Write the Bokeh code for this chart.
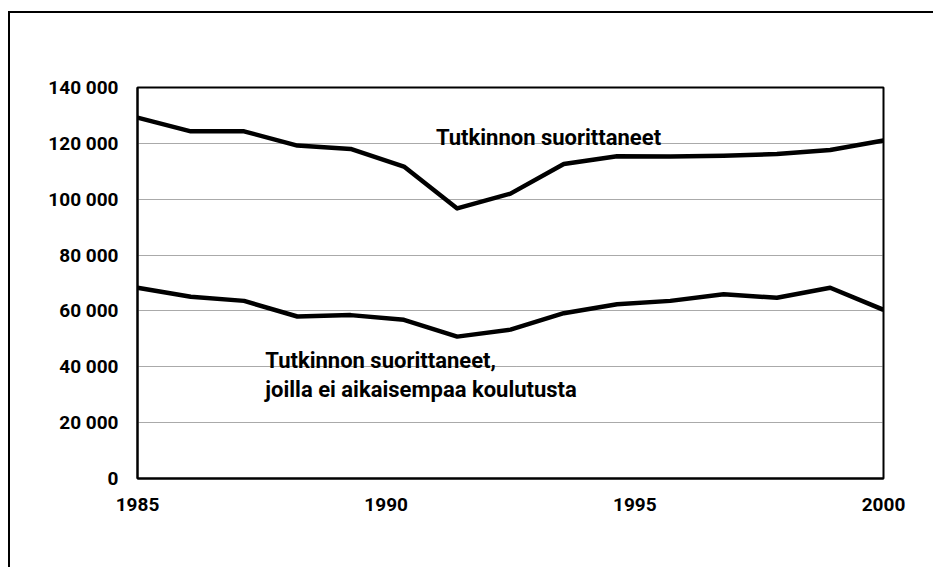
import numpy as np
from bokeh.plotting import figure
from bokeh.models import FixedTicker, Label, Range1d
from bokeh.embed import file_html
from bokeh.resources import INLINE

# --- data ---
all_completed = [129200, 124300, 124300, 119200, 118000, 111700, 96700, 102000,
                 112600, 115400, 115300, 115600, 116200, 117600, 121000]
first_degree = [68300, 65100, 63600, 58000, 58500, 56800, 50800, 53300,
                59200, 62400, 63600, 66000, 64700, 68300, 60400]
x_start, x_end = 1985, 2000
x_ticks = [1985, 1990, 1995, 2000]
x_tick_labels = ["1985", "1990", "1995", "2000"]
y_ticks = [0, 20000, 40000, 60000, 80000, 100000, 120000, 140000]
y_tick_labels = ["0", "20 000", "40 000", "60 000", "80 000", "100 000", "120 000", "140 000"]
label_top = "Tutkinnon suorittaneet"
label_low_1 = "Tutkinnon suorittaneet,"
label_low_2 = "joilla ei aikaisempaa koulutusta"

# points are spread evenly over the axis span, as in the source chart
xs = np.linspace(x_start, x_end, len(all_completed))

FONT = "Roboto"

p = figure(width=925, height=556, output_backend="svg", toolbar_location=None,
           x_range=Range1d(x_start, x_end), y_range=Range1d(0, 140000),
           min_border_left=127, min_border_right=52, min_border_top=74,
           min_border_bottom=91)
p.margin = (11, 0, 0, 8)
p.styles = {"border-top": "2px solid #000", "border-left": "2px solid #000"}
p.background_fill_color = "white"
p.border_fill_color = "white"
p.outline_line_color = "black"
p.outline_line_width = 2

p.line(xs, all_completed, line_color="black", line_width=4.5, line_join="round")
p.line(xs, first_degree, line_color="black", line_width=4.5, line_join="round")

p.xaxis.ticker = FixedTicker(ticks=x_ticks)
p.xaxis.major_label_overrides = dict(zip(x_ticks, x_tick_labels))
p.yaxis.ticker = FixedTicker(ticks=y_ticks)
p.yaxis.major_label_overrides = dict(zip(y_ticks, y_tick_labels))
for ax in (p.xaxis, p.yaxis):
    ax.axis_line_color = "black"
    ax.axis_line_width = 2
    ax.major_tick_line_color = None
    ax.minor_tick_line_color = None
    ax.major_tick_out = 0
    ax.major_tick_in = 0
    ax.major_label_text_font = FONT
    ax.major_label_text_font_style = "bold"
    ax.major_label_text_font_size = "19px"
    ax.major_label_text_color = "black"
p.yaxis.major_label_standoff = 19
p.xaxis.major_label_standoff = 19

p.xgrid.grid_line_color = None
p.ygrid.grid_line_color = "#555555"
p.ygrid.grid_line_width = 1
p.ygrid.grid_line_dash = "1 1"

for txt, x, y in [(label_top, 1991.0, 122200), (label_low_1, 1987.57, 42250),
                  (label_low_2, 1987.57, 31870)]:
    p.add_layout(Label(x=x, y=y, text=txt, text_font=FONT, text_font_style="bold",
                       text_font_size="22px", text_color="black",
                       text_baseline="alphabetic", text_align="left"))

open("out.html", "w").write(file_html(p, INLINE))
